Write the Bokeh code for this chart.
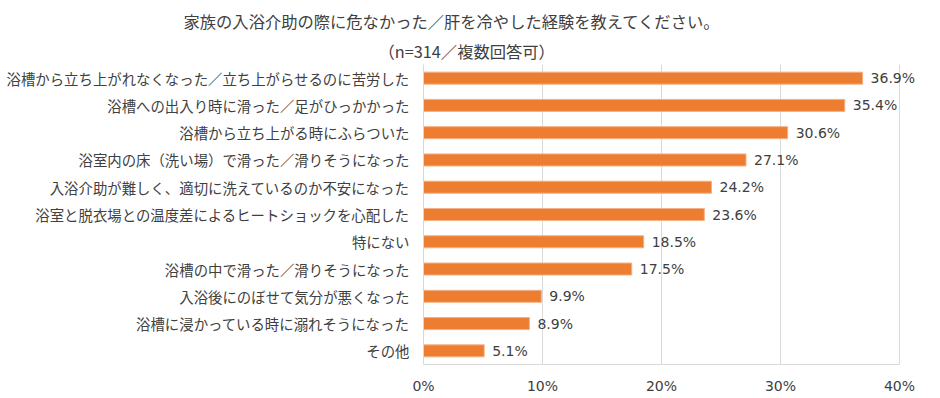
from bokeh.plotting import figure
from bokeh.models import (FactorRange, Range1d, FixedTicker, PrintfTickFormatter, Title,
                          ColumnDataSource, LabelSet)
from bokeh.core.properties import value
from bokeh.embed import file_html
from bokeh.resources import INLINE

title_text = "家族の入浴介助の際に危なかった／肝を冷やした経験を教えてください。"
subtitle_text = "（n=314／複数回答可）"

categories = [
    "浴槽から立ち上がれなくなった／立ち上がらせるのに苦労した",
    "浴槽への出入り時に滑った／足がひっかかった",
    "浴槽から立ち上がる時にふらついた",
    "浴室内の床（洗い場）で滑った／滑りそうになった",
    "入浴介助が難しく、適切に洗えているのか不安になった",
    "浴室と脱衣場との温度差によるヒートショックを心配した",
    "特にない",
    "浴槽の中で滑った／滑りそうになった",
    "入浴後にのぼせて気分が悪くなった",
    "浴槽に浸かっている時に溺れそうになった",
    "その他",
]
values = [36.9, 35.4, 30.6, 27.1, 24.2, 23.6, 18.5, 17.5, 9.9, 8.9, 5.1]
x_ticks = [0, 10, 20, 30, 40]

FONT = "Noto Sans CJK JP"
NUMFONT = "DejaVu Sans"
TXT = "#404040"
GRID = "#d9d9d9"

# axis spans 0-40 %; frame extends to the right edge so value labels are not clipped
AXIS_MAX = 40
FRAME_W = 517
AXIS_W = 476

src = ColumnDataSource(dict(cat=categories, val=values,
                            lab=[f"{v:.1f}%" for v in values]))

p = figure(frame_width=FRAME_W, frame_height=300, output_backend="svg", toolbar_location=None,
           y_range=FactorRange(*reversed(categories)),
           x_range=Range1d(0, AXIS_MAX * FRAME_W / AXIS_W),
           min_border_left=423, min_border_right=0, min_border_top=64, min_border_bottom=34)
p.outline_line_color = None
p.background_fill_color = "white"

p.hbar(y="cat", right="val", left=0, height=0.44, source=src,
       fill_color="#ED7D31", line_color="#F4B183", line_width=1)
p.add_layout(LabelSet(x="val", y="cat", text="lab", source=src, x_offset=8,
                      text_align="left", text_baseline="middle", text_font=value(NUMFONT),
                      text_font_size="14px", text_color=TXT))

p.xaxis.ticker = FixedTicker(ticks=x_ticks)
p.xaxis.bounds = (0, AXIS_MAX)
p.xaxis.formatter = PrintfTickFormatter(format="%d%%")
p.xaxis.major_tick_line_color = None
p.xaxis.minor_tick_line_color = None
p.xaxis.axis_line_color = GRID
p.xaxis.major_label_standoff = 7
p.xaxis.major_label_text_font = NUMFONT
p.xaxis.major_label_text_font_size = "14px"
p.xaxis.major_label_text_color = TXT

p.yaxis.major_tick_line_color = None
p.yaxis.minor_tick_line_color = None
p.yaxis.axis_line_color = GRID
p.yaxis.major_label_standoff = 8
p.yaxis.major_label_text_font = FONT
p.yaxis.major_label_text_font_size = "14.4px"
p.yaxis.major_label_text_color = TXT

p.ygrid.grid_line_color = None
p.xgrid.grid_line_color = GRID
p.xgrid.ticker = FixedTicker(ticks=x_ticks)

p.add_layout(Title(text=subtitle_text, align="left", offset=-45, standoff=4,
                   text_font=FONT, text_font_size="16.3px", text_font_style="normal",
                   text_color=TXT), "above")
p.add_layout(Title(text=title_text, align="left", offset=-240, standoff=4,
                   text_font=FONT, text_font_size="16.3px", text_font_style="normal",
                   text_color=TXT), "above")

open("out.html", "w").write(file_html(p, INLINE))
